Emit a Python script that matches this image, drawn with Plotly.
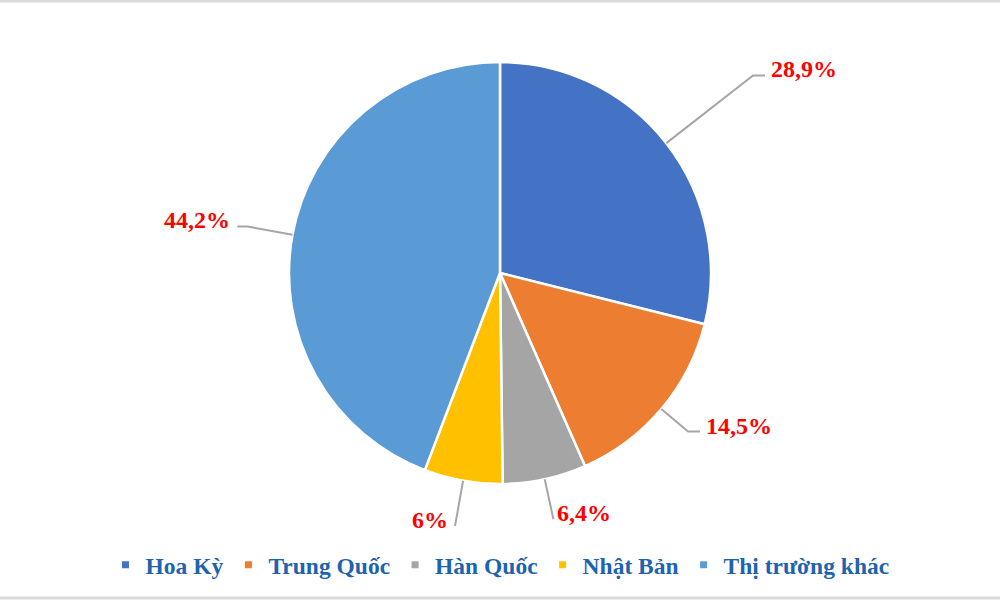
import math
import plotly.graph_objects as go

# thị phần (%)
markets = ["Hoa Kỳ", "Trung Quốc", "Hàn Quốc", "Nhật Bản", "Thị trường khác"]
shares = [28.9, 14.5, 6.4, 6.0, 44.2]
colors = ["#4472C4", "#ED7D31", "#A5A5A5", "#FFC000", "#5B9BD5"]

W, H = 1000, 600
ML, MR, MT, MB = 0, 0, 62, 116
PW, PH = W - ML - MR, H - MT - MB
R = min(PW, PH) / 2
CX, CY = ML + PW / 2, MT + PH / 2

# leader line layout: elbow distance (px from centre), horizontal tail (px), text gap
elbow_r = [321, 246, 252, 257, 257]
tails = [12, 12, 0, 0, 10]
gaps = [4, 4, 2, 5, 5]


def to_paper(px, py):
    return (px - ML) / PW, (MT + PH - py) / PH


def fmt(v):
    return ("%g" % v).replace(".", ",") + "%"


fig = go.Figure()
fig.add_trace(go.Pie(
    labels=markets, values=shares, sort=False, direction="clockwise",
    rotation=0, textinfo="none", hoverinfo="label+percent",
    marker=dict(colors=colors, line=dict(color="white", width=2.5)),
    showlegend=False, domain=dict(x=[0, 1], y=[0, 1]),
))

# legend via dummy traces (small square markers)
for m, c in zip(markets, colors):
    fig.add_trace(go.Scatter(x=[None], y=[None], mode="markers", name="<b>%s</b>" % m,
                             marker=dict(symbol="square", size=7, color=c)))

shapes = []
annotations = []
total = sum(shares)
cum = 0
for v, er, tl, gp in zip(shares, elbow_r, tails, gaps):
    mid = (cum + v / 2) / total * 2 * math.pi
    cum += v
    sx, sy = CX + R * math.sin(mid), CY - R * math.cos(mid)
    ex, ey = CX + er * math.sin(mid), CY - er * math.cos(mid)
    side = 1 if math.sin(mid) >= 0 else -1
    tx = ex + side * tl
    p0, p1, p2 = to_paper(sx, sy), to_paper(ex, ey), to_paper(tx, ey)
    shapes.append(dict(type="path", xref="paper", yref="paper",
                       path="M %f,%f L %f,%f L %f,%f" % (p0 + p1 + p2),
                       line=dict(color="#A6A6A6", width=2)))
    lx, ly = to_paper(tx + side * gp, ey)
    annotations.append(dict(x=lx, y=ly, xref="paper", yref="paper",
                            text="<b>%s</b>" % fmt(v), showarrow=False,
                            xanchor="left" if side > 0 else "right",
                            yanchor="middle", yshift=6,
                            font=dict(family="Liberation Serif", size=24, color="#FF0000")))

# thin grey frame lines top and bottom
for py in (1, H - 2):
    _, yy = to_paper(0, py)
    shapes.append(dict(type="line", xref="paper", yref="paper", x0=-0.01, x1=1.01,
                       y0=yy, y1=yy, line=dict(color="#D9D9D9", width=3)))

fig.update_layout(
    width=W, height=H,
    margin=dict(l=ML, r=MR, t=MT, b=MB),
    paper_bgcolor="white", plot_bgcolor="white",
    xaxis=dict(visible=False), yaxis=dict(visible=False),
    shapes=shapes, annotations=annotations,
    legend=dict(orientation="h", x=0.5, xanchor="center",
                y=to_paper(0, 565)[1], yanchor="middle",
                font=dict(family="Liberation Serif", size=23.5, color="#1E63AD"),
                itemclick=False, itemdoubleclick=False),
    font=dict(family="Liberation Serif"),
)

fig.write_html("out.html", config=dict(displayModeBar=False),
               post_script="document.body.style.margin='0';")
